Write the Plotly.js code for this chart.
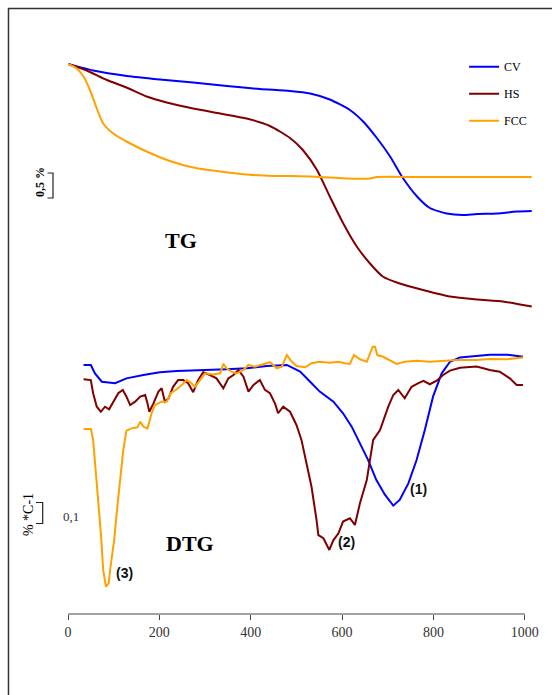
<!DOCTYPE html>
<html>
<head>
<meta charset="utf-8">
<script src="https://cdn.plot.ly/plotly-3.0.1.min.js"></script>
<style>
  html, body { margin: 0; padding: 0; background: #fff; }
  #chart { width: 552px; height: 695px; }
</style>
</head>
<body>
<div id="chart"></div>
<script>
// Samples
const SAMPLES = ['CV', 'HS', 'FCC'];
const COLORS = ['#0000FF', '#800000', '#FFA200'];

// x-axis ticks (temperature, °C)
const X_TICKS = [0, 200, 400, 600, 800, 1000];

// TG curves: residual mass (%) vs temperature (°C)
const T_TG_CV = [0, 55, 129, 201, 274, 348, 420, 486, 530, 573, 617, 646, 676, 705, 733, 764, 792, 829, 864, 895, 939, 982, 1015];
const TG_CV = [100, 99.87, 99.76, 99.69, 99.63, 99.56, 99.50, 99.46, 99.41, 99.29, 99.08, 98.85, 98.52, 98.15, 97.72, 97.35, 97.12, 97.01, 96.98, 97.00, 97.01, 97.05, 97.06];

const T_TG_HS = [0, 41, 85, 128, 172, 216, 274, 333, 391, 442, 486, 514, 545, 573, 602, 632, 661, 689, 726, 777, 836, 895, 952, 996, 1015];
const TG_HS = [100, 99.87, 99.68, 99.53, 99.35, 99.23, 99.11, 99.01, 98.91, 98.76, 98.52, 98.28, 97.88, 97.35, 96.82, 96.35, 96.01, 95.75, 95.61, 95.48, 95.35, 95.29, 95.25, 95.18, 95.15];

const T_TG_FCC = [0, 19, 34, 48, 63, 77, 99, 128, 172, 223, 274, 333, 391, 449, 486, 530, 573, 610, 661, 676, 777, 923, 1015];
const TG_FCC = [100, 99.91, 99.75, 99.48, 99.11, 98.81, 98.61, 98.45, 98.25, 98.06, 97.93, 97.85, 97.79, 97.76, 97.76, 97.75, 97.73, 97.71, 97.71, 97.74, 97.74, 97.74, 97.74];

// DTG curves: mass-loss rate (%/°C) vs temperature (°C)
const T_DTG_CV = [34, 50, 59, 74, 103, 128, 165, 201, 238, 274, 311, 347, 391, 435, 479, 486, 508, 530, 551, 581, 602, 621, 639, 657, 675, 694, 712, 726, 745, 763, 781, 799, 818, 836, 858, 894, 923, 960, 996];
const DTG_CV = [0.005, 0.005, -0.035, -0.075, -0.082, -0.059, -0.043, -0.030, -0.024, -0.022, -0.019, -0.016, -0.011, 0.000, 0.005, -0.003, -0.027, -0.075, -0.122, -0.170, -0.225, -0.289, -0.368, -0.448, -0.543, -0.614, -0.665, -0.638, -0.559, -0.448, -0.305, -0.146, -0.035, 0.020, 0.041, 0.049, 0.054, 0.054, 0.044];

const T_DTG_HS = [34, 50, 55, 63, 72, 81, 90, 99, 110, 120, 128, 136, 147, 158, 169, 174, 178, 187, 198, 205, 212, 220, 230, 241, 252, 263, 274, 285, 296, 311, 325, 340, 351, 362, 373, 384, 395, 406, 420, 431, 442, 453, 460, 471, 486, 500, 511, 522, 533, 544, 548, 559, 572, 581, 592, 602, 617, 628, 639, 654, 668, 683, 701, 712, 723, 737, 752, 767, 778, 792, 807, 821, 836, 858, 894, 909, 923, 945, 967, 982, 996];
const DTG_HS = [-0.063, -0.067, -0.130, -0.194, -0.218, -0.194, -0.206, -0.170, -0.130, -0.114, -0.146, -0.186, -0.170, -0.146, -0.138, -0.178, -0.218, -0.178, -0.122, -0.106, -0.170, -0.154, -0.099, -0.067, -0.067, -0.082, -0.125, -0.067, -0.030, -0.043, -0.059, -0.106, -0.059, -0.043, -0.019, -0.051, -0.122, -0.090, -0.067, -0.114, -0.130, -0.178, -0.225, -0.194, -0.218, -0.281, -0.352, -0.463, -0.575, -0.733, -0.805, -0.820, -0.876, -0.829, -0.797, -0.741, -0.725, -0.757, -0.654, -0.543, -0.352, -0.305, -0.194, -0.138, -0.114, -0.154, -0.099, -0.082, -0.071, -0.087, -0.070, -0.043, -0.022, -0.008, -0.003, -0.011, -0.019, -0.027, -0.059, -0.090, -0.090];

const T_DTG_FCC = [34, 50, 55, 59, 64, 69, 73, 77, 83, 89, 93, 101, 108, 114, 121, 128, 139, 152, 158, 165, 174, 183, 190, 205, 216, 225, 238, 249, 260, 269, 278, 289, 300, 318, 333, 340, 347, 358, 369, 384, 395, 409, 424, 442, 457, 468, 479, 490, 500, 519, 533, 551, 573, 592, 606, 617, 626, 639, 654, 661, 667, 672, 677, 690, 705, 719, 737, 763, 792, 821, 851, 894, 923, 960, 996];
const DTG_FCC = [-0.300, -0.300, -0.352, -0.448, -0.590, -0.718, -0.829, -0.971, -1.051, -1.035, -0.956, -0.829, -0.670, -0.543, -0.400, -0.308, -0.297, -0.292, -0.265, -0.289, -0.297, -0.225, -0.186, -0.170, -0.170, -0.130, -0.111, -0.090, -0.067, -0.080, -0.099, -0.067, -0.035, -0.040, -0.035, 0.010, -0.011, -0.027, -0.035, -0.019, 0.005, -0.003, 0.005, 0.018, -0.011, -0.003, 0.052, 0.020, 0.000, -0.006, 0.013, 0.020, 0.016, 0.020, 0.013, 0.010, 0.052, 0.032, 0.020, 0.060, 0.092, 0.092, 0.052, 0.044, 0.025, 0.010, 0.020, 0.025, 0.020, 0.025, 0.029, 0.029, 0.033, 0.032, 0.040];

const TG_X = [T_TG_CV, T_TG_HS, T_TG_FCC];
const TG_Y = [TG_CV, TG_HS, TG_FCC];
const DTG_X = [T_DTG_CV, T_DTG_HS, T_DTG_FCC];
const DTG_Y = [DTG_CV, DTG_HS, DTG_FCC];

const SERIF = 'Liberation Serif, Times New Roman, serif';
const SANS = 'Liberation Sans, Arial, sans-serif';

const traces = [];
SAMPLES.forEach((name, i) => {
  traces.push({
    type: 'scatter', mode: 'lines', name: name,
    x: TG_X[i], y: TG_Y[i], xaxis: 'x', yaxis: 'y',
    legendgroup: name, showlegend: true,
    line: {color: COLORS[i], width: 2, shape: 'spline', smoothing: 0.6}
  });
});
SAMPLES.forEach((name, i) => {
  traces.push({
    type: 'scatter', mode: 'lines', name: name + ' DTG',
    x: DTG_X[i], y: DTG_Y[i], xaxis: 'x', yaxis: 'y2',
    legendgroup: name, showlegend: false,
    line: {color: COLORS[i], width: 2}
  });
});

// left-side scale brackets (0,5 % of mass on TG, 0,1 %/°C on DTG)
const TG_BAR = [97.32, 97.82];
const DTG_BAR = [-0.75, -0.65];

function label(text, xref, yref, x, y, font, extra) {
  return Object.assign({text, xref, yref, x, y, showarrow: false,
    xanchor: 'center', yanchor: 'middle', font}, extra || {});
}

const BOLD_SERIF = {family: SERIF, size: 22, weight: 'bold', color: '#000'};
const BOLD_SANS = {family: SANS, size: 14, weight: 'bold', color: '#111'};

const layout = {
  width: 552, height: 695,
  margin: {l: 68, r: 18, t: 30, b: 81, pad: 0},
  paper_bgcolor: '#ffffff', plot_bgcolor: '#ffffff',
  font: {family: SERIF, size: 12, color: '#000'},
  showlegend: true,
  legend: {
    x: 0.85, y: 0.962, xanchor: 'left', yanchor: 'top',
    bgcolor: 'rgba(0,0,0,0)', borderwidth: 0,
    traceorder: 'grouped', tracegroupgap: 8,
    font: {family: SERIF, size: 12, color: '#000'}
  },
  xaxis: {
    range: [0, 1020], tickvals: X_TICKS, ticktext: X_TICKS.map(String),
    ticks: 'outside', ticklen: 5, tickwidth: 1, tickcolor: '#444',
    showline: false, showgrid: false, zeroline: false,
    tickfont: {family: SERIF, size: 14, color: '#333'}
  },
  yaxis: {range: [89.0, 100.68], visible: false, showgrid: false, zeroline: false},
  yaxis2: {range: [-1.181, 1.6], overlaying: 'y', visible: false, showgrid: false, zeroline: false},
  shapes: [
    // outer frame
    {type: 'rect', xref: 'paper', yref: 'paper', x0: -0.1277, x1: 1.056, y0: -0.156, y1: 1.0368,
     line: {color: '#333', width: 1.5}, fillcolor: 'rgba(0,0,0,0)', layer: 'below'},
    // temperature axis line
    {type: 'line', xref: 'x', yref: 'paper', x0: 0, x1: 1000, y0: 0, y1: 0,
     line: {color: '#444', width: 1}},
    // TG scale bracket
    {type: 'path', xref: 'paper', yref: 'y',
     path: `M -0.044,${TG_BAR[1]} L -0.0322,${TG_BAR[1]} L -0.0322,${TG_BAR[0]} L -0.044,${TG_BAR[0]}`,
     line: {color: '#222', width: 1.2}},
    // DTG scale bracket
    {type: 'path', xref: 'paper', yref: 'y2',
     path: `M -0.0687,${DTG_BAR[1]} L -0.0543,${DTG_BAR[1]} L -0.0543,${DTG_BAR[0]} L -0.0687,${DTG_BAR[0]}`,
     line: {color: '#222', width: 1.2}}
  ],
  annotations: [
    label('TG', 'x', 'y', 247, 96.48, BOLD_SERIF),
    label('DTG', 'x', 'y2', 268, -0.843, BOLD_SERIF),
    label('(1)', 'x', 'y2', 768, -0.586, BOLD_SANS),
    label('(2)', 'x', 'y2', 609, -0.837, BOLD_SANS),
    label('(3)', 'x', 'y2', 124, -0.984, BOLD_SANS),
    label('0,1', 'paper', 'y2', 0.0064, -0.719, {family: SERIF, size: 13, color: '#333'}),
    label('0,5 %', 'paper', 'y', -0.0601, 97.64, {family: SERIF, size: 12, weight: 'bold', color: '#000'}, {textangle: -90}),
    label('% *C-1', 'paper', 'y2', -0.0858, -0.710, {family: SERIF, size: 14, color: '#000'}, {textangle: -90})
  ]
};

Plotly.newPlot('chart', traces, layout, {staticPlot: true, displayModeBar: false});
</script>
</body>
</html>
